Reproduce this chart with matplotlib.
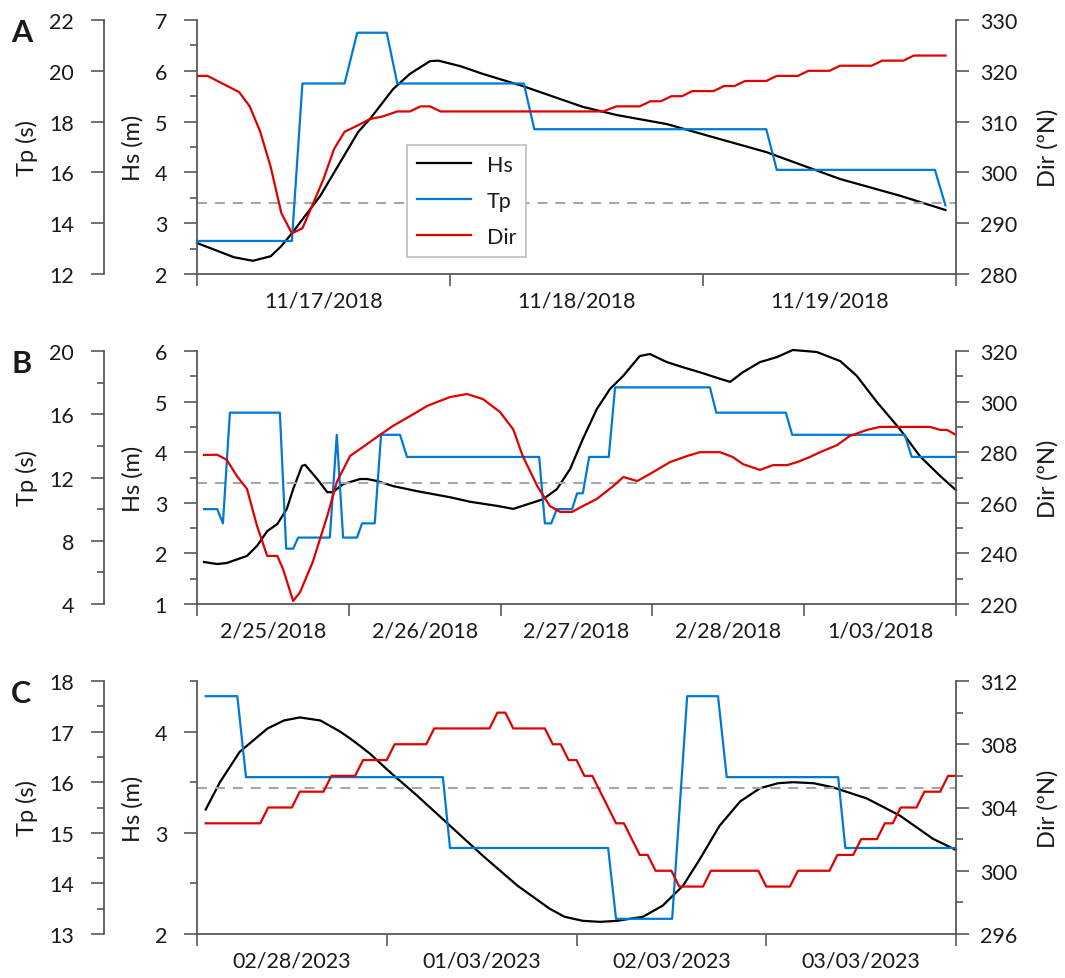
import numpy as np
import matplotlib
matplotlib.use('Agg')
from matplotlib import pyplot as plt
from matplotlib.ticker import MultipleLocator

plt.rcParams['font.family'] = ['Lato', 'DejaVu Sans']

# Panel A (hours from start of 11/17/2018)
a_hs_t = [0, 2, 3.5, 5.3, 7, 8, 9, 11.7, 13.5, 15.3, 16.4, 18.6, 20.2, 22.1, 22.9, 25, 27.1, 30.9,
          36.6, 39.8, 44.6, 48.5, 54, 61, 66.7, 71]
a_hs = [2.61, 2.45, 2.33, 2.26, 2.35, 2.55, 2.8, 3.54, 4.17, 4.8, 5.05, 5.64, 5.94, 6.19, 6.2, 6.09, 5.94, 5.70,
        5.29, 5.13, 4.95, 4.72, 4.40, 3.87, 3.54, 3.26]
a_tp_t = [0, 9, 10, 14, 15.2, 18, 19, 31, 32, 54, 55, 70, 71]
a_tp = [13.3, 13.3, 19.5, 19.5, 21.5, 21.5, 19.5, 19.5, 17.7, 17.7, 16.1, 16.1, 14.7]
a_dir_t = [0, 1, 4, 5, 6, 7, 8, 9, 10, 11, 12, 13, 14, 15.3, 16.4, 17.6, 19, 20.2, 21.2, 22.1, 23.1,
           38.5, 39.8, 42, 43, 44, 45, 46, 47, 49, 50, 51, 52, 54, 55, 57, 58, 60, 61, 64, 65, 67, 68, 71]
a_dir = [319, 319, 315.8, 313, 308, 301, 292, 288, 289, 293.8, 298.7, 304.6, 308, 309.3, 310.5, 311, 312, 312,
         313, 313, 312, 312, 313, 313, 314, 314, 315, 315, 316, 316, 317, 317, 318, 318, 319, 319, 320, 320,
         321, 321, 322, 322, 323, 323]
a_days = ['11/17/2018', '11/18/2018', '11/19/2018']

# Panel B (hours from start of 2/25/2018)
b_hs_t = [1.1, 3.2, 4.7, 7.9, 9.5, 11.1, 12.7, 14.2, 15.2, 16.6, 17.1, 19, 20.6, 21.5, 23.1, 25.8, 26.9,
          28.5, 31, 34.8, 40, 43.2, 47.4, 50, 51.5, 54.7, 56.9, 59, 61, 63.2, 65.3, 67.4, 70, 71.6, 74.3,
          76.8, 79.5, 82.7, 84.3, 86.3, 89, 91.7, 94.2, 98, 101.7, 104.3, 107.5, 111.1, 114.3, 117.5, 120]
b_hs = [1.83, 1.79, 1.81, 1.95, 2.15, 2.44, 2.58, 2.88, 3.27, 3.73, 3.75, 3.47, 3.21, 3.21, 3.37, 3.47, 3.47,
        3.43, 3.33, 3.23, 3.11, 3.02, 2.94, 2.88, 2.94, 3.07, 3.27, 3.67, 4.26, 4.85, 5.25, 5.51, 5.9, 5.94, 5.78,
        5.68, 5.58, 5.45, 5.39, 5.58, 5.78, 5.88, 6.02, 5.98, 5.8, 5.51, 4.99, 4.46, 3.92, 3.53, 3.25]
b_tp_t = [1.1, 3.2, 4.1, 5.2, 13.1, 14.1, 15.2, 16, 21, 22.1, 23.1, 25.3, 26.1, 28.1, 29.1, 32.1, 33.2,
          54.1, 55, 56, 56.9, 59.3, 60.1, 61, 62, 65.1, 66.1, 81.1, 82.1, 93.1, 94.1, 111.9, 113, 120]
b_tp = [10.0, 10.0, 9.1, 16.1, 16.1, 7.5, 7.5, 8.2, 8.2, 14.7, 8.2, 8.2, 9.1, 9.1, 14.7, 14.7, 13.3,
        13.3, 9.1, 9.1, 10.0, 10.0, 11.0, 11.0, 13.3, 13.3, 17.7, 17.7, 16.1, 16.1, 14.7, 14.7, 13.3, 13.3]
b_dir_t = [1.1, 3.2, 4.7, 6.3, 7.9, 9.5, 11.1, 12.7, 13.6, 15.2, 16.3, 18.3, 20.6, 22.1, 24.2, 25.8, 28.9,
           31, 33.7, 36.4, 40, 42.7, 45.2, 47.9, 50, 51.5, 53.8, 55.8, 57.4, 59.3, 61, 63.2, 65.8, 67.4, 69.6,
           71.6, 74.8, 77.5, 79.5, 82.7, 84.7, 86.3, 89, 91.1, 93.3, 94.9, 96.9, 98.5, 101.2, 103.2, 105.9,
           108, 115.9, 117.5, 118.6, 120]
b_dir = [278.9, 279, 277, 270.6, 265.5, 250.8, 239, 239, 233.8, 221.2, 224.7, 236.6, 254.8, 268.2, 278.5,
         281.3, 286.8, 290.4, 294.3, 298.3, 301.8, 303, 301, 295.9, 289, 278.5, 266.6, 258.7, 256.4, 256.4,
         258.7, 261.5, 266.6, 270.2, 268.6, 271.4, 276.1, 278.5, 280, 280, 278.1, 275.3, 273, 274.9, 274.9,
         276.1, 278.1, 280, 282.8, 286.4, 288.8, 290, 290, 288.8, 288.8, 286.8]
b_days = ['2/25/2018', '2/26/2018', '2/27/2018', '2/28/2018', '1/03/2018']

# Panel C (hours from start of 02/28/2023)
c_hs_t = [1.1, 2.9, 5.4, 8.9, 11, 13, 15.6, 18.1, 19.4, 20.6, 21.9, 24.4, 27.8, 32, 36.2, 40.5, 44.6,
          46.5, 48.8, 51, 53.1, 56.4, 58.9, 61.5, 63.6, 66.1, 68.7, 71.2, 73.5, 75.4, 78, 80.4, 84.7, 88.9,
          93.1, 96]
c_hs = [3.23, 3.50, 3.80, 4.03, 4.11, 4.14, 4.11, 4.0, 3.93, 3.86, 3.78, 3.6, 3.37, 3.07, 2.77, 2.48, 2.25,
        2.17, 2.13, 2.12, 2.13, 2.17, 2.28, 2.48, 2.74, 3.07, 3.31, 3.44, 3.49, 3.5, 3.49, 3.45, 3.34, 3.17,
        2.94, 2.83]
c_tp_t = [1.1, 5.1, 6.2, 31.1, 32, 52, 53, 60.1, 62, 65.9, 67, 81.1, 82, 96]
c_tp = [17.7, 17.7, 16.1, 16.1, 14.7, 14.7, 13.3, 13.3, 17.7, 17.7, 16.1, 16.1, 14.7, 14.7]
c_dir_t = [1.1, 8, 9, 12, 13, 16, 17, 20, 21, 24, 25, 29, 30, 37, 38, 39, 40, 44, 45, 46, 47, 48, 49, 50,
           53, 54, 56, 57, 58, 60, 61, 64, 65, 71, 72, 75, 76, 80, 81, 83, 84, 86, 87, 88, 89, 91, 92, 94,
           95, 96]
c_dir = [303, 303, 304, 304, 305, 305, 306, 306, 307, 307, 308, 308, 309, 309, 310, 310, 309, 309, 308, 308,
         307, 307, 306, 306, 303, 303, 301, 301, 300, 300, 299, 299, 300, 300, 299, 299, 300, 300, 301, 301,
         302, 302, 303, 303, 304, 304, 305, 305, 306, 306]
c_days = ['02/28/2023', '01/03/2023', '02/03/2023', '03/03/2023']

hs_threshold = [3.4, 3.4, 3.44]

spine_col = '#595959'
text_col = '#1a1a1a'
blue = '#0078D7'
red = '#E00000'
fs = 15.5
lab_fs = 17


def style_axis(a, major, minor, side):
    a.yaxis.set_major_locator(MultipleLocator(major))
    if minor:
        a.yaxis.set_minor_locator(MultipleLocator(minor))
    pad = 12 if side == 'left' else 8
    a.tick_params(axis='y', which='major', direction='out', length=9.5, width=1.2,
                  color=spine_col, labelcolor=text_col, labelsize=fs, pad=pad)
    a.tick_params(axis='y', which='minor', direction='out', length=5, width=1.2, color=spine_col)
    a.spines[side].set_color(spine_col)
    a.spines[side].set_linewidth(1.3)


def draw_panel(rect, letter, days, hs_t, hs, tp_t, tp, dir_t, dirs,
               hs_lim, hs_step, tp_lim, tp_step, dir_lim, dir_step, thr, legend=False):
    ax = fig.add_axes(rect)
    ax_tp = ax.twinx()
    ax_dir = ax.twinx()

    # Hs on the inner left axis
    l_hs, = ax.plot(np.array(hs_t) / 24, hs, color='black', lw=1.6, label='Hs', clip_on=False)
    ax.axhline(thr, color='#A6A6A6', lw=1.5, dashes=(4.8, 3.8))
    ax.set_ylim(hs_lim)
    for s in ['top', 'right']:
        ax.spines[s].set_visible(False)
    ax.spines['bottom'].set_color(spine_col)
    ax.spines['bottom'].set_linewidth(1.3)
    style_axis(ax, hs_step[0], hs_step[1], 'left')

    # Tp on the outer left axis
    l_tp, = ax_tp.plot(np.array(tp_t) / 24, tp, color=blue, lw=1.6, label='Tp')
    ax_tp.set_ylim(tp_lim)
    ax_tp.yaxis.tick_left()
    ax_tp.spines['left'].set_position(('axes', -93 / 759))
    for s in ['top', 'right', 'bottom']:
        ax_tp.spines[s].set_visible(False)
    style_axis(ax_tp, tp_step[0], tp_step[1], 'left')

    # Dir on the right axis
    l_dir, = ax_dir.plot(np.array(dir_t) / 24, dirs, color=red, lw=1.6, label='Dir')
    ax_dir.set_ylim(dir_lim)
    for s in ['top', 'left', 'bottom']:
        ax_dir.spines[s].set_visible(False)
    style_axis(ax_dir, dir_step[0], dir_step[1], 'right')

    # x axis: ticks at day boundaries, labels centred on each day
    n = len(days)
    ax.set_xlim(0, n)
    ax.set_xticks(range(n + 1))
    ax.set_xticks(np.arange(n) + 0.5, minor=True)
    ax.set_xticklabels(days, minor=True)
    ax.tick_params(axis='x', which='major', direction='out', length=8.5, width=1.2,
                   color=spine_col, labelbottom=False)
    ax.tick_params(axis='x', which='minor', length=0, pad=12, labelsize=fs, labelcolor=text_col)

    ax.text(-0.224, 0.5, 'Tp (s)', transform=ax.transAxes, rotation=90,
            ha='center', va='center', fontsize=lab_fs, color=text_col)
    ax.text(-0.0843, 0.5, 'Hs (m)', transform=ax.transAxes, rotation=90,
            ha='center', va='center', fontsize=lab_fs, color=text_col)
    ax.text(1.121, 0.5, 'Dir (ºN)', transform=ax.transAxes, rotation=90,
            ha='center', va='center', fontsize=lab_fs, color=text_col)

    top_px = (1 - rect[1] - rect[3]) * 979
    fig.text(11 / 1065, 1 - (top_px + 21) / 979, letter, fontsize=22, fontweight='bold',
             color=text_col, va='baseline', ha='left')

    if legend:
        leg = ax_dir.legend([l_hs, l_tp, l_dir], ['Hs', 'Tp', 'Dir'], loc='upper left',
                            bbox_to_anchor=(0.277, 0.508), borderaxespad=0, fontsize=fs,
                            handlelength=2.5, handletextpad=0.75, labelspacing=0.75,
                            borderpad=0.45, fancybox=False, framealpha=1)
        leg.get_frame().set_edgecolor('#BFBFBF')
        leg.get_frame().set_linewidth(1.2)
        for t in leg.get_texts():
            t.set_color(text_col)


fig = plt.figure(figsize=(10.65, 9.79), dpi=100)

w = 759 / 1065
h = 254 / 979
draw_panel([197 / 1065, 1 - 275 / 979, w, h], 'A', a_days, a_hs_t, a_hs, a_tp_t, a_tp, a_dir_t, a_dir,
           (2, 7), (1, 0.5), (12, 22), (2, None), (280, 330), (10, None), hs_threshold[0], legend=True)
draw_panel([197 / 1065, 1 - 605 / 979, w, 253 / 979], 'B', b_days, b_hs_t, b_hs, b_tp_t, b_tp, b_dir_t, b_dir,
           (1, 6), (1, 0.5), (4, 20), (4, 2), (220, 320), (20, 10), hs_threshold[1])
draw_panel([197 / 1065, 1 - 935 / 979, w, 253 / 979], 'C', c_days, c_hs_t, c_hs, c_tp_t, c_tp, c_dir_t, c_dir,
           (2, 4.5), (1, 0.5), (13, 18), (1, 0.5), (296, 312), (4, 2), hs_threshold[2])

fig.savefig('out.png', dpi=100)
